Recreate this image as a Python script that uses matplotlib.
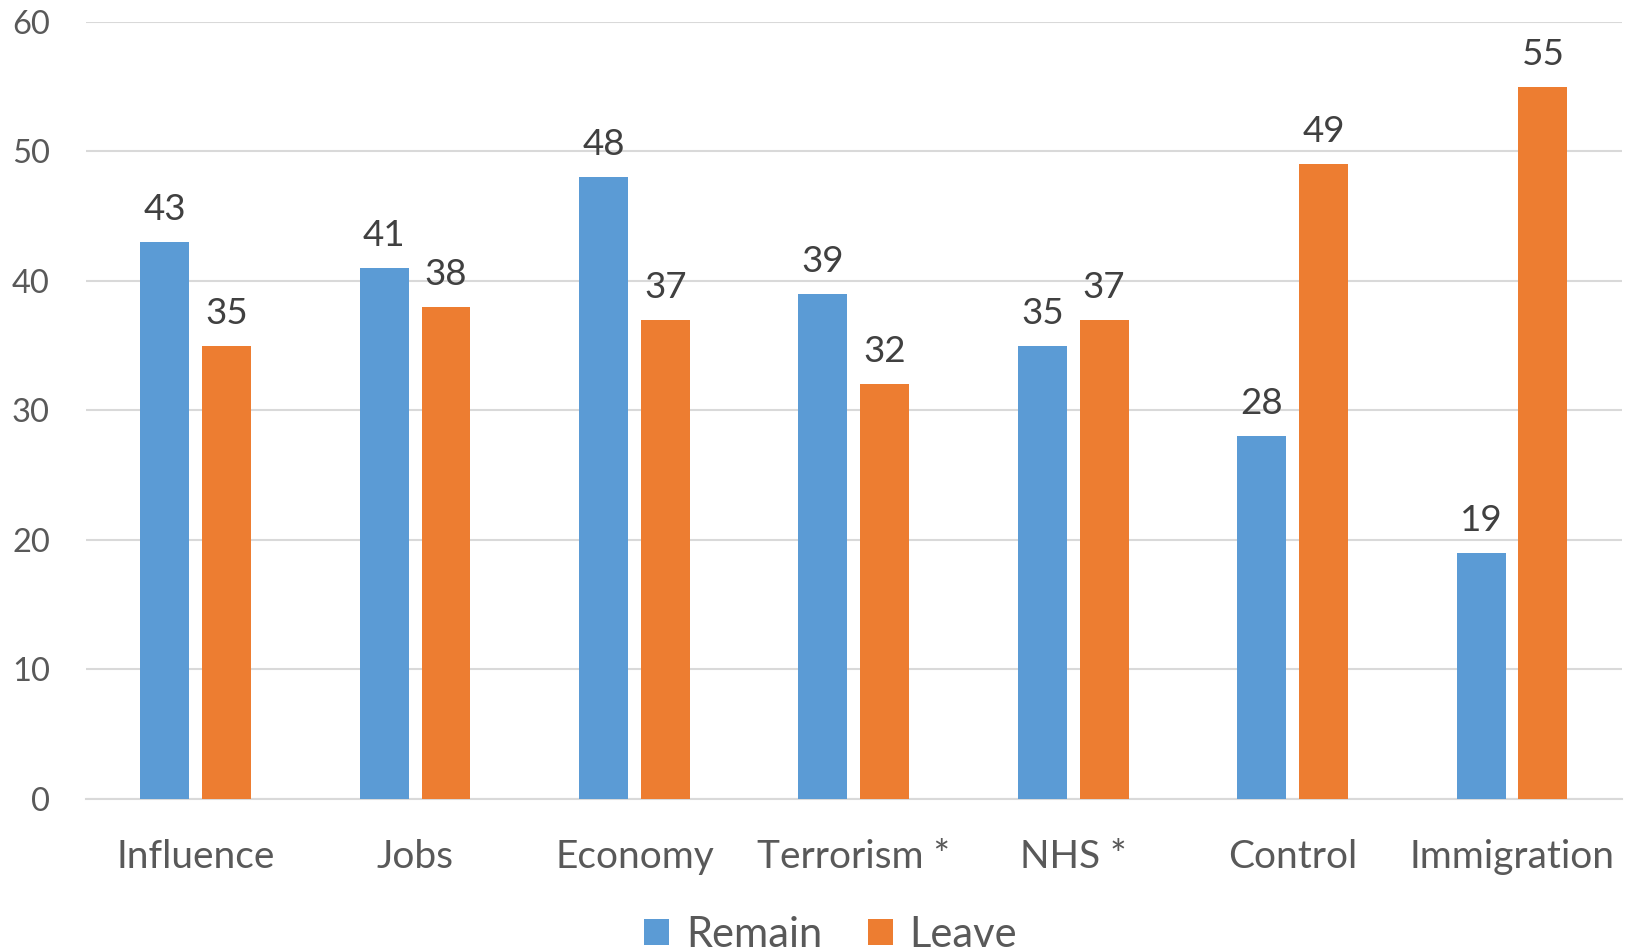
import matplotlib.pyplot as plt
import numpy as np

plt.rcParams['font.family'] = ['Lato', 'DejaVu Sans']

categories = ['Influence', 'Jobs', 'Economy', 'Terrorism *', 'NHS *', 'Control', 'Immigration']
remain = [43, 41, 48, 39, 35, 28, 19]
leave = [35, 38, 37, 32, 37, 49, 55]

blue = '#5B9BD5'
orange = '#ED7D31'

fig = plt.figure(figsize=(16.32, 9.52), dpi=100)
ax = fig.add_axes([0.0527, 0.161, 0.941, 0.816])

x = np.arange(len(categories))
w = 0.223
off = 0.141
b1 = ax.bar(x - off, remain, w, color=blue, label='Remain', zorder=3)
b2 = ax.bar(x + off, leave, w, color=orange, label='Leave', zorder=3)

# подписи значений над столбцами
for bars, vals in ((b1, remain), (b2, leave)):
    for bar, v in zip(bars, vals):
        ax.annotate(str(v), (bar.get_x() + bar.get_width() / 2, v),
                    xytext=(0, 11.5), textcoords='offset points',
                    ha='center', va='bottom', fontsize=26.5, color='#404040')

ax.set_xlim(-0.5, len(categories) - 0.5)
ax.set_ylim(0, 60)
ax.set_yticks(range(0, 61, 10))
ax.set_xticks(x)
ax.set_xticklabels(categories)
ax.yaxis.grid(True, color='#D9D9D9', linewidth=1.5, zorder=0)
ax.tick_params(axis='y', length=0, pad=26, labelsize=23.5, labelcolor='#595959')
ax.tick_params(axis='x', length=0, pad=29, labelsize=28, labelcolor='#595959')
for s in ['top', 'right', 'left']:
    ax.spines[s].set_visible(False)
ax.spines['bottom'].set_color('#D9D9D9')
ax.spines['bottom'].set_linewidth(1.5)

fig.legend(loc='center', bbox_to_anchor=(0.509, 0.018), ncol=2, frameon=False,
           fontsize=30, labelcolor='#595959', handlelength=0.6, handleheight=0.6,
           handletextpad=0.4, columnspacing=1.1)

fig.savefig('out.png', dpi=100)
